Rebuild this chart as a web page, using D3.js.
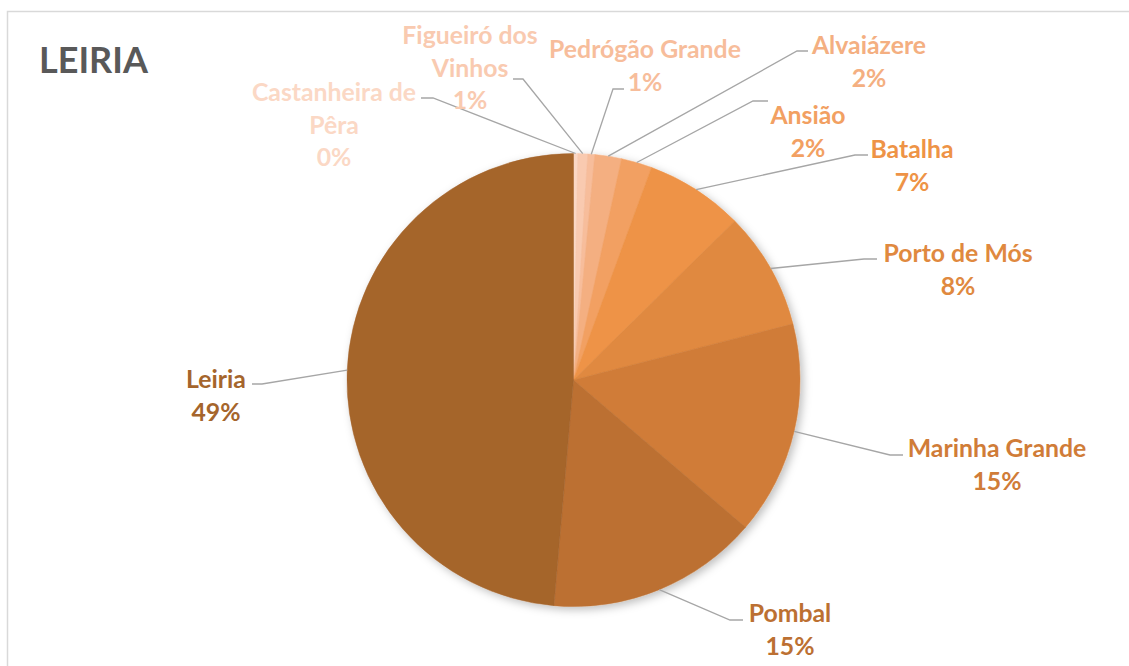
<!DOCTYPE html>
<html>
<head>
<meta charset="utf-8">
<script src="https://cdn.jsdelivr.net/npm/d3@7"></script>
<style>
  body { margin: 0; background: #fff; }
  text { font-family: Lato, "Open Sans", sans-serif; font-weight: bold; }
</style>
</head>
<body>
<div id="chart"></div>
<script>
// ---- data (share of total, clockwise from 12 o'clock) ----
const municipalities = ['Castanheira de Pêra', 'Figueiró dos Vinhos', 'Pedrógão Grande', 'Alvaiázere',
  'Ansião', 'Batalha', 'Porto de Mós', 'Marinha Grande', 'Pombal', 'Leiria'];
const shares = [0.3, 0.7, 0.5, 1.9, 2.2, 7.0, 8.4, 15.25, 15.1, 48.6];
const pctLabels = ['0%', '1%', '1%', '2%', '2%', '7%', '8%', '15%', '15%', '49%'];
// label text split into lines, as Excel wraps them
const nameLines = [['Castanheira de', 'Pêra'], ['Figueiró dos', 'Vinhos'], ['Pedrógão Grande'], ['Alvaiázere'],
  ['Ansião'], ['Batalha'], ['Porto de Mós'], ['Marinha Grande'], ['Pombal'], ['Leiria']];

// ---- layout ----
const width = 1129, height = 666;
const cx = 573.5, cy = 380, radius = 226.5;
const colors = ['#FBD8C5', '#F9CAB0', '#F7BD9B', '#F4AF81', '#F2A062', '#EE9346',
  '#E0893F', '#D07C38', '#BC7032', '#A5652C'];
// label center x / first line center y, and leader elbow + tail end
const labelPos = [[334, 91], [470, 34], [645, 48], [869, 44], [808, 114], [912, 148],
  [958, 252], [997, 447], [790, 612], [216, 378]];
const leaderElbow = [[433, 98, 421], [523, 79, 513], [613, 89, 624], [797, 51, 808], [753, 101, 768],
  [855, 155, 868], [864, 259, 877], [890, 455, 903], [730, 620, 743], [262, 384, 252]];
const lineStep = 32.5;

const data = municipalities.map((m, i) => ({
  name: m, value: shares[i], pct: pctLabels[i], lines: nameLines[i], i: i
}));

const svg = d3.select('#chart').append('svg')
  .attr('width', width)
  .attr('height', height);

// chart area border
svg.append('rect')
  .attr('x', 7.5).attr('y', 11.5)
  .attr('width', width + 20).attr('height', height + 20)
  .attr('fill', '#fff')
  .attr('stroke', '#D9D9D9')
  .attr('stroke-width', 1.5);

// soft shadow like Excel's pie
const defs = svg.append('defs');
defs.append('filter')
    .attr('id', 'shadow')
    .attr('x', '-10%').attr('y', '-10%')
    .attr('width', '120%').attr('height', '120%')
  .append('feDropShadow')
    .attr('dx', 3).attr('dy', 3)
    .attr('stdDeviation', 4)
    .attr('flood-color', '#000')
    .attr('flood-opacity', 0.25);

svg.append('text')
  .attr('x', 39)
  .attr('y', 73)
  .attr('fill', '#595959')
  .attr('font-size', 36)
  .text('LEIRIA');

const pie = d3.pie()
  .value(d => d.value)
  .sort(null);

const arcs = pie(data);

const arcGen = d3.arc()
  .innerRadius(0)
  .outerRadius(radius);

const edgeArc = d3.arc()
  .innerRadius(radius)
  .outerRadius(radius);

const chart = svg.append('g')
  .attr('transform', `translate(${cx},${cy})`);

chart.append('g')
    .attr('filter', 'url(#shadow)')
  .selectAll('path')
  .data(arcs)
  .join('path')
    .attr('d', arcGen)
    .attr('fill', d => colors[d.data.i])
    .attr('stroke', d => colors[d.data.i])
    .attr('stroke-width', 0.5);

// ---- leader lines ----
svg.append('g')
  .selectAll('path')
  .data(arcs)
  .join('path')
    .attr('fill', 'none')
    .attr('stroke', '#A6A6A6')
    .attr('stroke-width', 1.3)
    .attr('d', d => {
      const [ex, ey] = edgeArc.centroid(d);
      const [bx, by, tx] = leaderElbow[d.data.i];
      return `M${cx + ex},${cy + ey}L${bx},${by}L${tx},${by}`;
    });

// ---- labels ----
const labels = svg.append('g')
  .selectAll('text')
  .data(data)
  .join('text')
    .attr('text-anchor', 'middle')
    .attr('dominant-baseline', 'central')
    .attr('font-size', 24.8)
    .attr('fill', d => colors[d.i])
    .attr('x', d => labelPos[d.i][0])
    .attr('y', d => labelPos[d.i][1]);

labels.each(function(d) {
  const t = d3.select(this);
  const lines = d.lines.concat([d.pct]);
  lines.forEach((l, k) => {
    t.append('tspan')
      .attr('x', labelPos[d.i][0])
      .attr('y', labelPos[d.i][1] + k * lineStep)
      .text(l);
  });
});
</script>
</body>
</html>
